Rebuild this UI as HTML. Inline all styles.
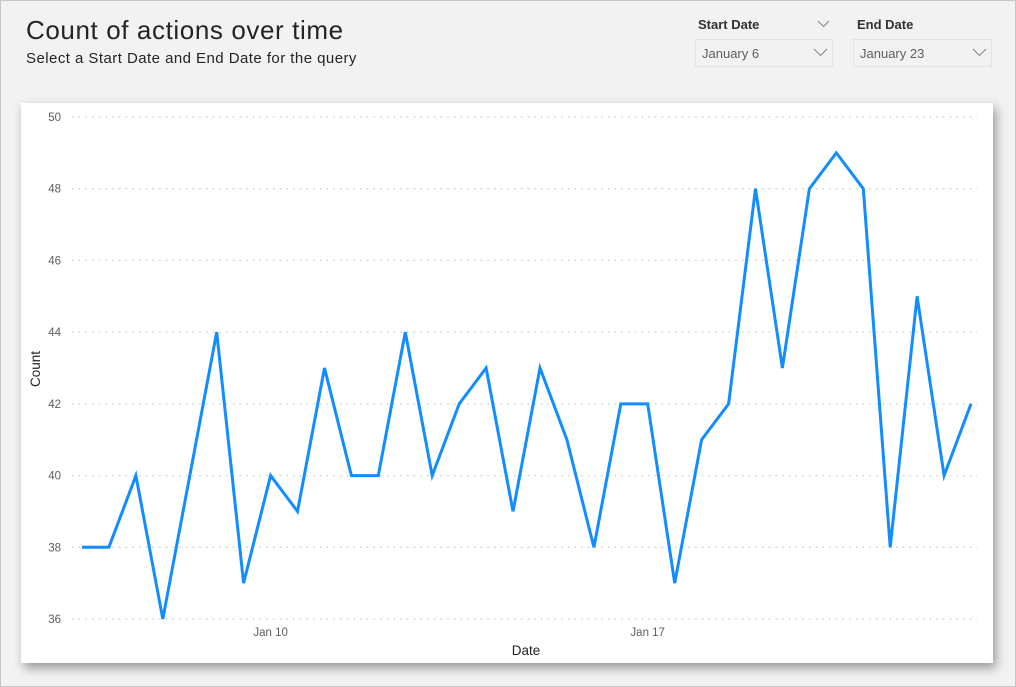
<!DOCTYPE html>
<html>
<head>
<meta charset="utf-8">
<style>
  html,body{margin:0;padding:0;}
  body{width:1016px;height:687px;position:relative;overflow:hidden;background:#f2f2f3;font-family:"Liberation Sans",Arial,sans-serif;}
  .frame{position:absolute;left:0;top:0;width:1014px;height:685px;border:1px solid #c6c6c6;}
  .title{position:absolute;left:26px;top:14px;font-size:26px;letter-spacing:0.6px;color:#252423;white-space:nowrap;line-height:32px;}
  .sub{position:absolute;left:26px;top:50px;font-size:15px;letter-spacing:0.45px;color:#252423;white-space:nowrap;line-height:18px;}
  .hdr{position:absolute;top:17px;font-size:13px;font-weight:bold;color:#323130;line-height:16px;white-space:nowrap;}
  .box{position:absolute;top:39px;height:26px;border:1px solid #e3e3e4;background:#f2f2f3;}
  .box span{position:absolute;left:6px;top:6px;font-size:13px;color:#605e5c;line-height:16px;white-space:nowrap;}
  .card{position:absolute;left:21px;top:103px;width:972px;height:560px;background:#fff;box-shadow:3px 5px 10px rgba(0,0,0,0.38);}
  svg{position:absolute;left:0;top:0;}
</style>
</head>
<body>
<div class="frame"></div>
<div class="title">Count of actions over time</div>
<div class="sub">Select a Start Date and End Date for the query</div>

<div class="hdr" style="left:698px;">Start Date</div>
<div class="hdr" style="left:857px;">End Date</div>
<div class="box" style="left:695px;width:136px;"><span>January 6</span></div>
<div class="box" style="left:853px;width:137px;"><span>January 23</span></div>

<div class="card"></div>

<svg width="1016" height="687" viewBox="0 0 1016 687">
  <!-- chevrons -->
  <g fill="none" stroke="#8a8886" stroke-width="1.1">
    <polyline points="818,21 823.5,26.5 829,21"/>
    <polyline points="814,49 820.5,55.5 827,49"/>
    <polyline points="973,49 979.5,55.5 986,49"/>
  </g>
  <!-- gridlines -->
  <g stroke="#c8c8c8" stroke-width="1.3" stroke-dasharray="1.5 5.2">
    <line x1="72" y1="117" x2="977" y2="117"/>
    <line x1="72" y1="188.7" x2="977" y2="188.7"/>
    <line x1="72" y1="260.4" x2="977" y2="260.4"/>
    <line x1="72" y1="332.1" x2="977" y2="332.1"/>
    <line x1="72" y1="403.9" x2="977" y2="403.9"/>
    <line x1="72" y1="475.6" x2="977" y2="475.6"/>
    <line x1="72" y1="547.3" x2="977" y2="547.3"/>
    <line x1="72" y1="619" x2="977" y2="619"/>
  </g>
  <!-- y tick labels -->
  <g font-family="Liberation Sans, Arial, sans-serif" font-size="11.5" fill="#605e5c" text-anchor="end">
    <text x="61" y="121">50</text>
    <text x="61" y="192.7">48</text>
    <text x="61" y="264.4">46</text>
    <text x="61" y="336.1">44</text>
    <text x="61" y="407.9">42</text>
    <text x="61" y="479.6">40</text>
    <text x="61" y="551.3">38</text>
    <text x="61" y="623">36</text>
  </g>
  <!-- x tick labels -->
  <g font-family="Liberation Sans, Arial, sans-serif" font-size="11.5" fill="#605e5c" text-anchor="middle">
    <text x="270.6" y="636">Jan 10</text>
    <text x="647.7" y="636">Jan 17</text>
  </g>
  <!-- axis titles -->
  <text x="526" y="655" font-family="Liberation Sans, Arial, sans-serif" font-size="13.5" fill="#252423" text-anchor="middle">Date</text>
  <text transform="translate(40,369) rotate(-90)" font-family="Liberation Sans, Arial, sans-serif" font-size="13.5" fill="#252423" text-anchor="middle">Count</text>
  <!-- series -->
  <polyline fill="none" stroke="#118dff" stroke-width="3" stroke-linejoin="miter" stroke-linecap="butt"
    points="82,547.3 108.9,547.3 135.9,475.6 162.8,619 189.8,475.6 216.7,332.1 243.6,583.1 270.6,475.6 297.5,511.4 324.5,368 351.4,475.6 378.3,475.6 405.3,332.1 432.2,475.6 459.2,403.9 486.1,368 513,511.4 540,368 566.9,439.7 593.9,547.3 620.8,403.9 647.7,403.9 674.7,583.1 701.6,439.7 728.6,403.9 755.5,188.7 782.4,368 809.4,188.7 836.3,152.9 863.3,188.7 890.2,547.3 917.1,296.3 944.1,475.6 971,403.9"/>
</svg>
</body>
</html>
